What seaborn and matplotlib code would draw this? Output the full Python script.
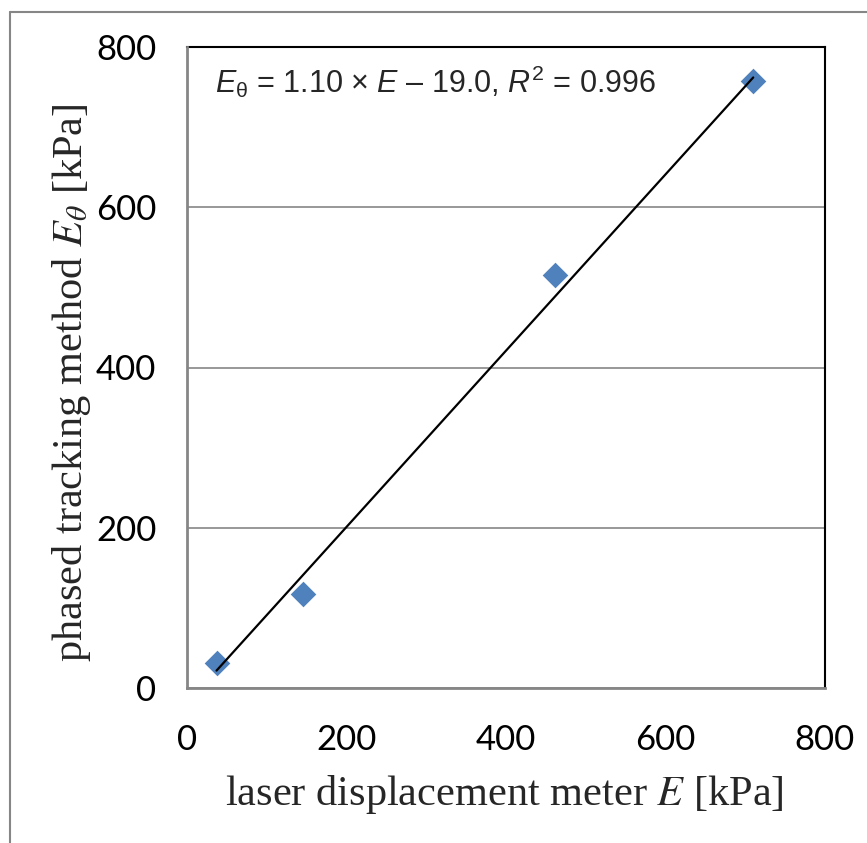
import numpy as np
import pandas as pd
import matplotlib
matplotlib.use("Agg")
import matplotlib.pyplot as plt
from matplotlib.lines import Line2D
import seaborn as sns

# data
laser_E = [37, 146, 461, 710]        # laser displacement meter E [kPa]
phased_E = [31, 117, 516, 757]       # phased tracking method E_theta [kPa]
slope, intercept = 1.10, -19.0
ticks = [0, 200, 400, 600, 800]

df = pd.DataFrame({"E": laser_E, "Etheta": phased_E})
fit = pd.DataFrame({"E": [min(laser_E), max(laser_E)]})
fit["Etheta"] = slope * fit["E"] + intercept

sns.set_style("white")
plt.rcParams["font.family"] = ["Lato", "DejaVu Sans"]
plt.rcParams["mathtext.fontset"] = "custom"
plt.rcParams["mathtext.rm"] = "Liberation Sans"
plt.rcParams["mathtext.it"] = "Liberation Sans:italic"

gray = "#868686"
fig = plt.figure(figsize=(8.67, 8.43), dpi=100)
ax = fig.add_axes([187 / 867, 1 - 688 / 843, 638 / 867, 641 / 843])

sns.scatterplot(data=df, x="E", y="Etheta", ax=ax, marker="D", s=170,
                color="#4F81BD", linewidth=0, zorder=3)
sns.lineplot(data=fit, x="E", y="Etheta", ax=ax, color="black",
             linewidth=1.6, zorder=4)

ax.set_xlim(0, 800)
ax.set_ylim(0, 800)
ax.set_xticks(ticks)
ax.set_yticks(ticks)
ax.yaxis.grid(True, color=gray, linewidth=1.2)
ax.set_axisbelow(True)

for side in ["top", "right"]:
    ax.spines[side].set_color("black")
    ax.spines[side].set_linewidth(1.5)
for side in ["left", "bottom"]:
    ax.spines[side].set_color(gray)
    ax.spines[side].set_linewidth(2)
    ax.spines[side].set_zorder(5)

ax.tick_params(axis="both", direction="out", length=8, width=1.5,
               color=gray, labelsize=25, labelcolor="black")
ax.tick_params(axis="x", pad=18)
ax.tick_params(axis="y", pad=14)

ax.set_xlabel(r"laser displacement meter $E$ [kPa]", fontsize=30.5,
              family="Liberation Serif", math_fontfamily="stix")
ax.xaxis.label.set_va("baseline")
ax.xaxis.set_label_coords(0.497, -0.1825)

ax.set_ylabel(r"phased tracking method $E_{\theta}$ [kPa]", fontsize=30.5,
              family="Liberation Serif", math_fontfamily="stix",
              rotation_mode="anchor", va="baseline", ha="center")
ax.yaxis.set_label_coords(-0.1646, 0.4766)

ax.text(0.0439, 0.928,
        r"$E_{\mathrm{\theta}}$ = 1.10 × $E$ – 19.0, $R^2$ = 0.996",
        transform=ax.transAxes, fontsize=22, va="baseline",
        family="Liberation Sans", math_fontfamily="custom")

# chart-area frame (partly cut off in the original)
fig.add_artist(Line2D([10 / 867, 10 / 867], [0, 1 - 12 / 843],
                      transform=fig.transFigure, color=gray, linewidth=1.5))
fig.add_artist(Line2D([10 / 867, 1], [1 - 12 / 843, 1 - 12 / 843],
                      transform=fig.transFigure, color=gray, linewidth=1.5))

fig.savefig("out.png", dpi=100)
